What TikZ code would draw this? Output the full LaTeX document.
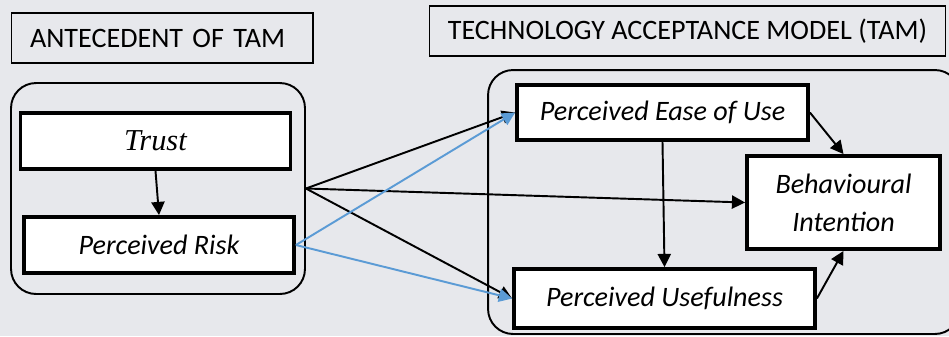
\documentclass[tikz,border=0pt]{standalone}
\usepackage{fontspec}
\setmainfont{Carlito}
\newfontfamily\timesfont{Liberation Serif}
\usetikzlibrary{arrows.meta,positioning}
\definecolor{tamblue}{RGB}{91,155,213}
\definecolor{bggrey}{RGB}{231,232,236}

\begin{document}
\begin{tikzpicture}[x=0.02cm, y=-0.02cm, every node/.style={font=\fontsize{16}{21.5}\selectfont}, box/.style={draw, line width=2.2pt, fill=white, inner sep=0pt, align=center, font=\fontsize{16}{21.5}\selectfont\itshape}, group/.style={draw, line width=1.1pt, rounded corners=0.5cm, inner sep=0pt}, title/.style={draw, line width=0.6pt, inner sep=0pt, minimum height=1cm}, link/.style={-{Triangle[length=7.5pt,width=7.5pt]}, line width=1.1pt}, risklink/.style={link, color=tamblue}]
\useasboundingbox[fill=bggrey] (0,0) rectangle (949,336);
% headings
\node[title, minimum width=6.04cm, text width=5.28cm, align=left] (antetitle) at (162,38) {ANTECEDENT OF TAM};
\node[title, minimum width=10.34cm] (tamtitle) at (687.5,31) {TECHNOLOGY ACCEPTANCE MODEL (TAM)};
% groups
\node[group, minimum width=5.88cm, minimum height=4.22cm] (ante) at (158,188.5) {};
\node[group, minimum width=9.44cm, minimum height=5.28cm] (tam) at (724,202) {};
% constructs
\node[box, minimum width=5.4cm, minimum height=1.12cm, font=\fontsize{17.3}{20}\selectfont\timesfont\itshape] (trust) at (155.5,141) {Trust};
\node[box, minimum width=5.4cm, minimum height=1.12cm] (risk) at (159,245) {Perceived Risk};
\node[box, minimum width=5.82cm, minimum height=1.1cm] (peou) at (662.5,112.5) {Perceived Ease of Use};
\node[box, minimum width=3.86cm, minimum height=1.86cm] (bi) at (843.5,202.5) {Behavioural\\Intention};
\node[box, minimum width=6.02cm, minimum height=1.18cm] (pu) at (664.5,298.5) {Perceived Usefulness};
% paths
\draw[link] (trust.south) -- (risk.north);
\draw[link] (ante.east) -- (peou.west);
\draw[link] (ante.east) -- (bi.west);
\draw[link] (ante.east) -- (pu.west);
\draw[risklink] (risk.east) -- (peou.west);
\draw[risklink] (risk.east) -- (pu.west);
\draw[link] (peou.south) -- (pu.north);
\draw[link] (peou.east) -- (bi.north);
\draw[link] (pu.east) -- (bi.south);
\end{tikzpicture}
\end{document}
